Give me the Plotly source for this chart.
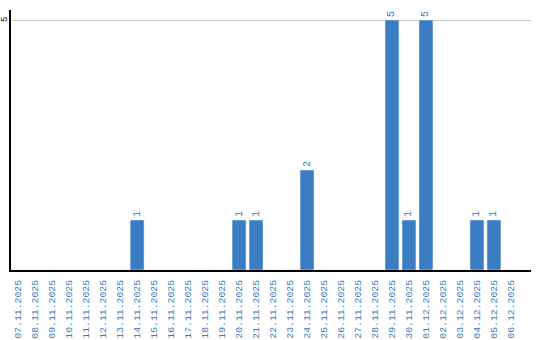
import plotly.graph_objects as go

dates = ["07.11.2025","08.11.2025","09.11.2025","10.11.2025","11.11.2025","12.11.2025",
         "13.11.2025","14.11.2025","15.11.2025","16.11.2025","17.11.2025","18.11.2025",
         "19.11.2025","20.11.2025","21.11.2025","22.11.2025","23.11.2025","24.11.2025",
         "25.11.2025","26.11.2025","27.11.2025","28.11.2025","29.11.2025","30.11.2025",
         "01.12.2025","02.12.2025","03.12.2025","04.12.2025","05.12.2025","06.12.2025"]
values = [0,0,0,0,0,0,0,1,0,0,0,0,0,1,1,0,0,2,0,0,0,0,5,1,5,0,0,1,1,0]
y_ticks = [5]

idx = list(range(len(dates)))
texts = [str(v) if v > 0 else "" for v in values]
color = "#3b7dc3"
font_family = "Liberation Mono"

fig = go.Figure(go.Bar(
    x=idx, y=values, width=0.82, marker_color=color,
    text=texts, textposition="outside", textangle=-90, cliponaxis=False,
    outsidetextfont=dict(family=font_family, size=10, color=color),
))
fig.update_layout(
    width=540, height=340, margin=dict(l=11, r=9, t=10, b=70, autoexpand=False),
    plot_bgcolor="white", paper_bgcolor="white", showlegend=False,
    bargap=0.18,
)
fig.update_xaxes(
    range=[-0.42, 30.18], tickmode="array", tickvals=idx, ticktext=dates,
    tickangle=-90, tickfont=dict(family=font_family, size=9.8, color=color),
    showline=True, linecolor="black", linewidth=2, showgrid=False, ticks="",
    ticklabelstandoff=4, zeroline=False, automargin=False,
)
fig.update_yaxes(
    range=[0, 5.2], tickmode="array", tickvals=y_ticks, showticklabels=False,
    showline=True, linecolor="black", linewidth=1.5, showgrid=True,
    gridcolor="#cccccc", gridwidth=1, zeroline=False, ticks="",
    automargin=False,
)
for t in y_ticks:
    fig.add_annotation(
        x=0, xref="paper", xanchor="center", xshift=-6, y=t, yref="y",
        text=str(t), textangle=-90, showarrow=False,
        font=dict(family=font_family, size=9, color="black"),
    )
fig.write_html("out.html")
